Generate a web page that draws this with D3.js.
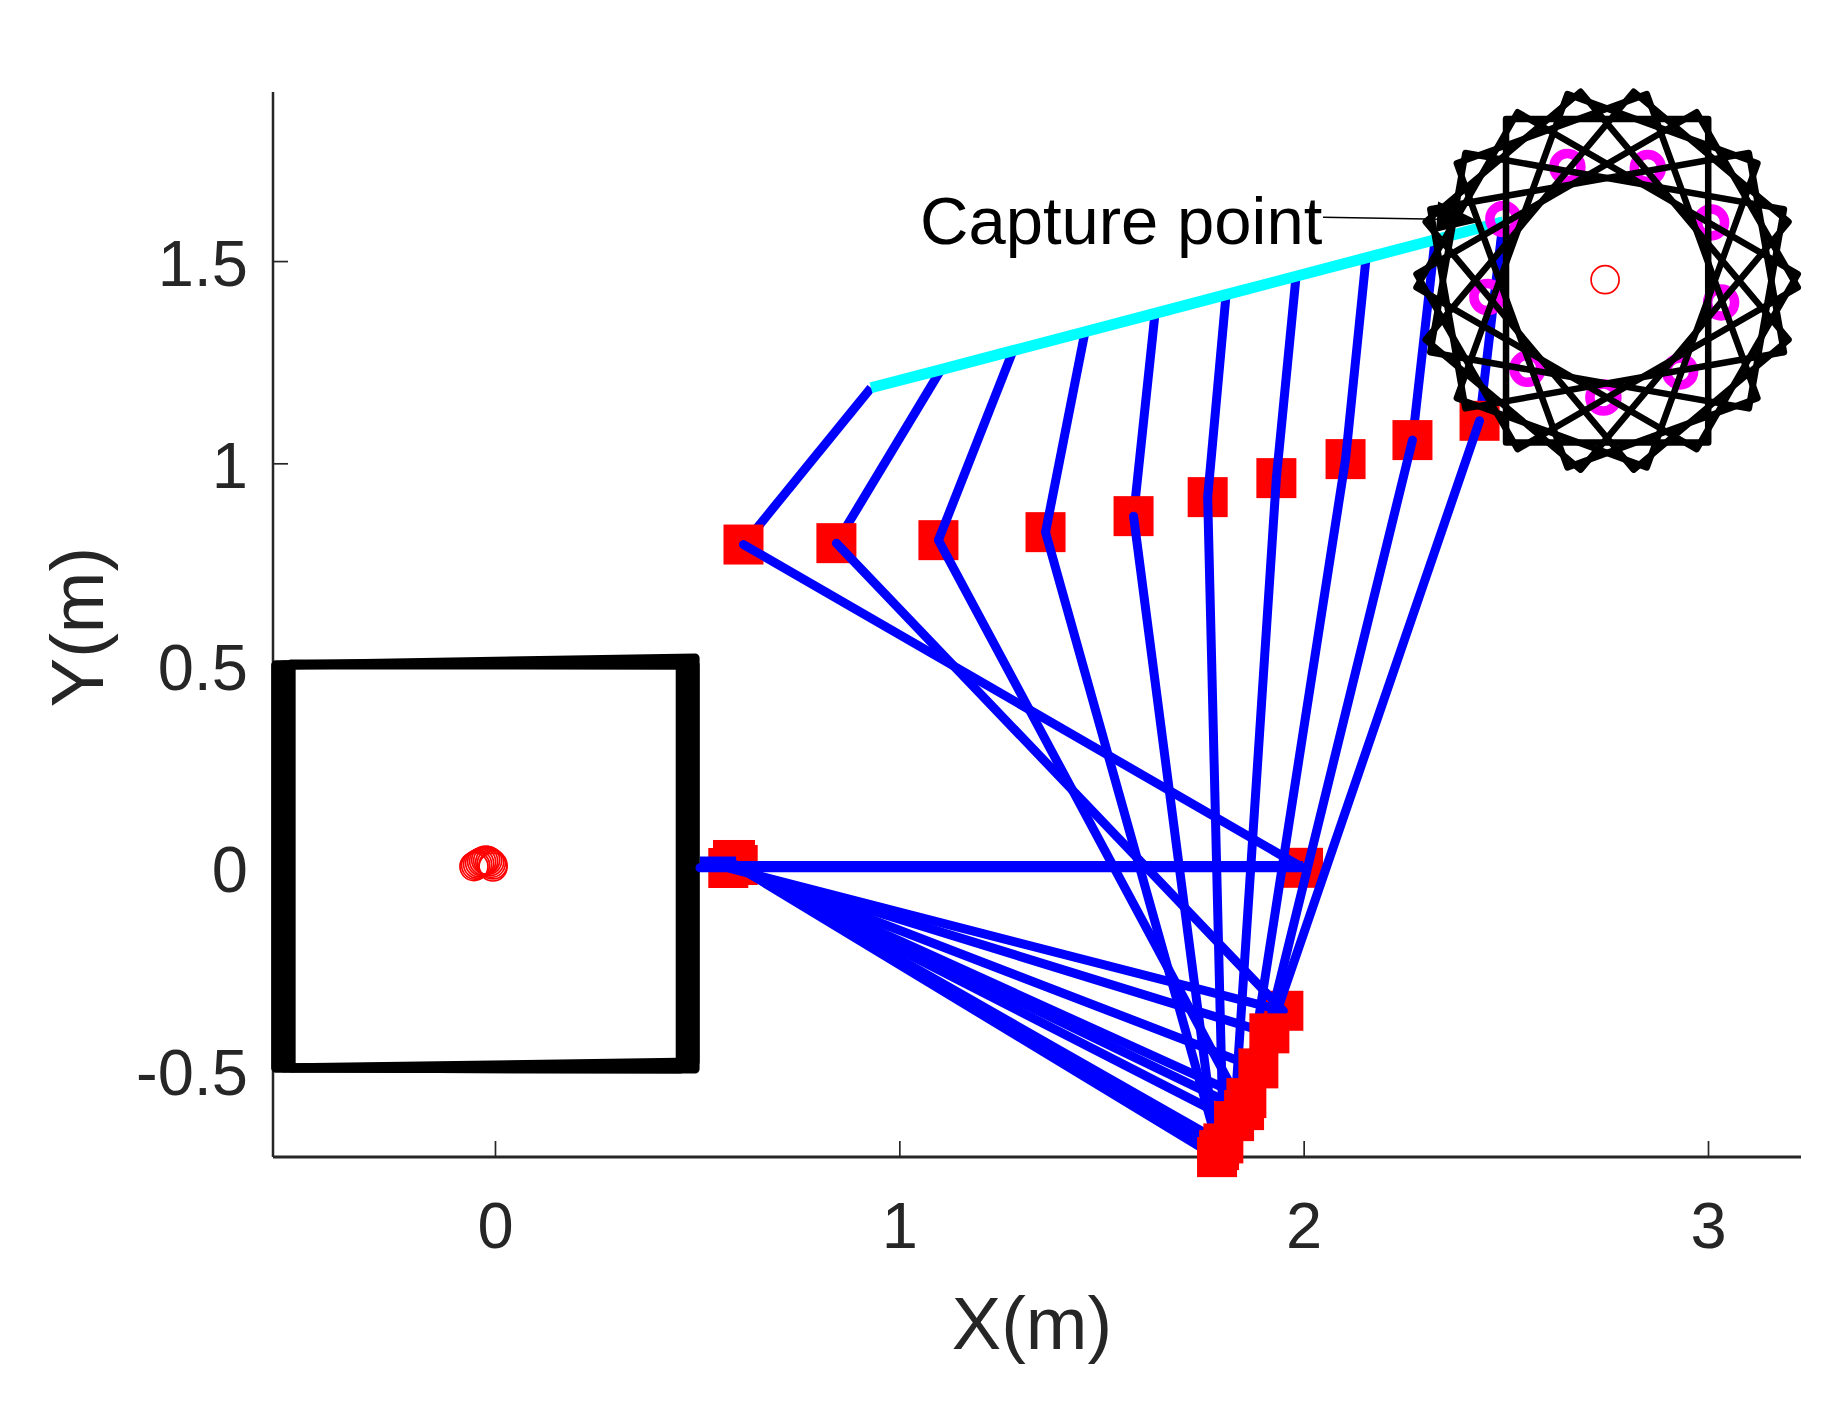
<!DOCTYPE html>
<html>
<head>
<meta charset="utf-8">
<script src="https://cdn.jsdelivr.net/npm/d3@7"></script>
<style>
  html, body { margin: 0; background: #fff; }
  text { font-family: "Liberation Sans", Arial, sans-serif; }
</style>
</head>
<body>
<svg id="chart" width="1826" height="1424"></svg>
<script>
// Axis ticks
var xTicks = [0, 1, 2, 3];
var yTicks = [-0.5, 0, 0.5, 1, 1.5];

// Base of each arm (m)
var baseX = [0.5070, 0.5813, 0.5813, 0.5813, 0.5813, 0.5813, 0.5813, 0.5813, 0.5813, 0.5813];
var baseY = [0.0000, -0.0017, 0.0131, 0.0143, 0.0143, 0.0131, 0.0119, 0.0094, 0.0069, 0.0020];

// First joint
var lowerX = [1.9985, 1.9498, 1.8526, 1.7908, 1.7858, 1.8014, 1.8279, 1.8583, 1.8880, 1.9152];
var lowerY = [0.0000, -0.3535, -0.5991, -0.6980, -0.7153, -0.6814, -0.6263, -0.5694, -0.4959, -0.4093];

// Second joint
var upperX = [0.6146, 0.8444, 1.0967, 1.3616, 1.5793, 1.7626, 1.9325, 2.1036, 2.2691, 2.4350];
var upperY = [0.7992, 0.8026, 0.8100, 0.8298, 0.8694, 0.9164, 0.9634, 1.0104, 1.0574, 1.1051];

// End effector, these sit on the cyan path
var endX = [0.9299, 1.1031, 1.2812, 1.4593, 1.6324, 1.8081, 1.9812, 2.1543, 2.3250, 2.4932];
var endY = [1.1867, 1.2315, 1.2785, 1.3253, 1.3708, 1.4170, 1.4625, 1.5080, 1.5528, 1.5973];

// Arms whose top link goes under the red marker
var hiddenLinks = [0, 1, 4, 8, 9];

// Extra markers and short line pieces at the arm base
var baseMarkX = [0.5887, 0.5936, 0.5770, 0.6003];
var baseMarkY = [0.0193, 0.0193, -0.0005, 0.0069];
var stubX = [[0.507, 0.5961], [0.5961, 1.9985]];
var stubY = [[0.0168, 0.0168], [0.0057, 0.0057]];

// Free floating base, drawn a few times as it drifts
var platformX = [
  [-0.5419, 0.4949, 0.4949, -0.5419],
  [-0.5231, 0.4764, 0.4764, -0.5231],
  [-0.5041, 0.4581, 0.4581, -0.5041],
  [-0.5419, 0.4949, 0.4949, -0.5419]
];
var platformY = [
  [0.5016, 0.5189, -0.4803, -0.4952],
  [0.5016, 0.5115, -0.4878, -0.4952],
  [0.5041, 0.5016, -0.4977, -0.4952],
  [0.5016, 0.5016, -0.4977, -0.4952]
];

// Centre of the base over time
var driftX = [-0.052, -0.048, -0.043, -0.038, -0.033, -0.028, -0.023, -0.018, -0.013, -0.009, -0.005, -0.005];
var driftY = [0.003, 0.006, 0.009, 0.012, 0.015, 0.017, 0.019, 0.018, 0.015, 0.011, 0.007, 0.002];

// Target: a 0.5 x 0.8 m plate spinning about its centre
var targetX = 2.7505;
var targetY = 1.4514;
var targetW = 0.5;
var targetH = 0.8;
var targetAngles = [0, 20, 40, 60, 80, 100, 120, 140, 160];
var targetMidX = 2.7455;
var targetMidY = 1.4539;

// Capture point on the plate, one per plate angle
var captureX = [2.6522, 2.8511, 3.0077, 3.0324, 2.9310, 2.7413, 2.5533, 2.4544, 2.4939];
var captureY = [1.7326, 1.7302, 1.5956, 1.3977, 1.2271, 1.1627, 1.2337, 1.4111, 1.6040];

// Annotation
var arrowX = [2.0480, 2.4116];
var arrowY = [1.6085, 1.6023];
var arrowHeadX = [2.4363, 2.3324, 2.3275];
var arrowHeadY = [1.5975, 1.6470, 1.5728];

var svg = d3.select("#chart");
var x = d3.scaleLinear().domain([-0.549, 3.23]).range([273, 1801]);
var y = d3.scaleLinear().domain([-0.715, 1.918]).range([1157, 92]);

var line = d3.line().x(d => x(d[0])).y(d => y(d[1]));
var closedLine = d3.line().x(d => x(d[0])).y(d => y(d[1])).curve(d3.curveLinearClosed);

function zip(xs, ys) {
  return xs.map((v, i) => [v, ys[i]]);
}

// Axes
var xAxis = svg.append("g")
  .attr("transform", "translate(0,1157)")
  .call(d3.axisBottom(x).tickValues(xTicks).tickSize(-16).tickPadding(45).tickFormat(String));
var yAxis = svg.append("g")
  .attr("transform", "translate(273,0)")
  .call(d3.axisLeft(y).tickValues(yTicks).tickSize(-15).tickPadding(25).tickFormat(String));

xAxis.select(".domain").attr("d", "M273,0H1801").attr("stroke", "#262626").attr("stroke-width", 3);
yAxis.select(".domain").attr("d", "M0,92V1157").attr("stroke", "#262626").attr("stroke-width", 2.5);
svg.selectAll(".tick line").attr("stroke", "#262626").attr("stroke-width", 1.7);
svg.selectAll(".tick text").attr("fill", "#262626").style("font-size", "65px");
xAxis.selectAll(".tick text").attr("dy", "0.71em");
yAxis.selectAll(".tick text").attr("dy", "0.37em");

svg.append("text")
  .attr("x", 1032).attr("y", 1349)
  .attr("text-anchor", "middle")
  .attr("fill", "#262626")
  .style("font-size", "74px")
  .text("X(m)");
svg.append("text")
  .attr("transform", "translate(103,627) rotate(-90)")
  .attr("text-anchor", "middle")
  .attr("fill", "#262626")
  .style("font-size", "74px")
  .text("Y(m)");

// Base platform
platformX.forEach((px, i) => {
  svg.append("path")
    .attr("d", closedLine(zip(px, platformY[i])))
    .attr("fill", "none")
    .attr("stroke", "#000")
    .attr("stroke-width", 9)
    .attr("stroke-linejoin", "round");
});

driftX.forEach((v, i) => {
  svg.append("circle")
    .attr("cx", x(v)).attr("cy", y(driftY[i])).attr("r", 14)
    .attr("fill", "none").attr("stroke", "#f00").attr("stroke-width", 1.7);
});

function redSquare(px, py) {
  svg.append("rect")
    .attr("x", x(px) - 20).attr("y", y(py) - 20)
    .attr("width", 40).attr("height", 40)
    .attr("fill", "#f00");
}

function blueLine(points, cap) {
  svg.append("path")
    .attr("d", line(points))
    .attr("fill", "none")
    .attr("stroke", "#00f")
    .attr("stroke-width", 9)
    .attr("stroke-linecap", cap)
    .attr("stroke-linejoin", "round");
}

// Draw order: some links are under the markers, some over
redSquare(lowerX[0], lowerY[0]);
redSquare(lowerX[1], lowerY[1]);

hiddenLinks.forEach(i => {
  blueLine([[upperX[i], upperY[i]], [endX[i], endY[i]]], "butt");
});

upperX.forEach((v, i) => redSquare(v, upperY[i]));
baseMarkX.forEach((v, i) => redSquare(v, baseMarkY[i]));

upperX.forEach((v, i) => {
  blueLine([[baseX[i], baseY[i]], [lowerX[i], lowerY[i]], [v, upperY[i]]], "round");
  if (hiddenLinks.indexOf(i) < 0) {
    blueLine([[v, upperY[i]], [endX[i], endY[i]]], "butt");
  }
});
stubX.forEach((s, i) => blueLine(zip(s, stubY[i]), "butt"));

// Later markers cover the fan
[2, 7, 8, 9, 6, 5, 3, 4].forEach(i => redSquare(lowerX[i], lowerY[i]));

// End effector path
svg.append("path")
  .attr("d", line(zip(endX, endY)))
  .attr("fill", "none")
  .attr("stroke", "#0ff")
  .attr("stroke-width", 11);

// Capture point rings
captureX.forEach((v, i) => {
  svg.append("circle")
    .attr("cx", x(v)).attr("cy", y(captureY[i])).attr("r", 13.5)
    .attr("fill", "none").attr("stroke", "#f0f").attr("stroke-width", 9.5);
});

// Target plate at each angle
targetAngles.forEach(a => {
  var t = a * Math.PI / 180;
  var corners = [[-1, -1], [1, -1], [1, 1], [-1, 1]].map(c => {
    var dx = c[0] * targetW / 2;
    var dy = c[1] * targetH / 2;
    return [targetX + dx * Math.cos(t) - dy * Math.sin(t), targetY + dx * Math.sin(t) + dy * Math.cos(t)];
  });
  svg.append("path")
    .attr("d", closedLine(corners))
    .attr("fill", "none")
    .attr("stroke", "#000")
    .attr("stroke-width", 6.5)
    .attr("stroke-linejoin", "round");
});

svg.append("circle")
  .attr("cx", x(targetMidX)).attr("cy", y(targetMidY)).attr("r", 14)
  .attr("fill", "none").attr("stroke", "#f00").attr("stroke-width", 1.7);

// Annotation
svg.append("text")
  .attr("x", 920).attr("y", 244)
  .attr("fill", "#000")
  .style("font-size", "67px")
  .text("Capture point");
svg.append("path")
  .attr("d", line(zip(arrowX, arrowY)))
  .attr("fill", "none").attr("stroke", "#000").attr("stroke-width", 1.6);
svg.append("path")
  .attr("d", closedLine(zip(arrowHeadX, arrowHeadY)))
  .attr("fill", "#000");
</script>
</body>
</html>
